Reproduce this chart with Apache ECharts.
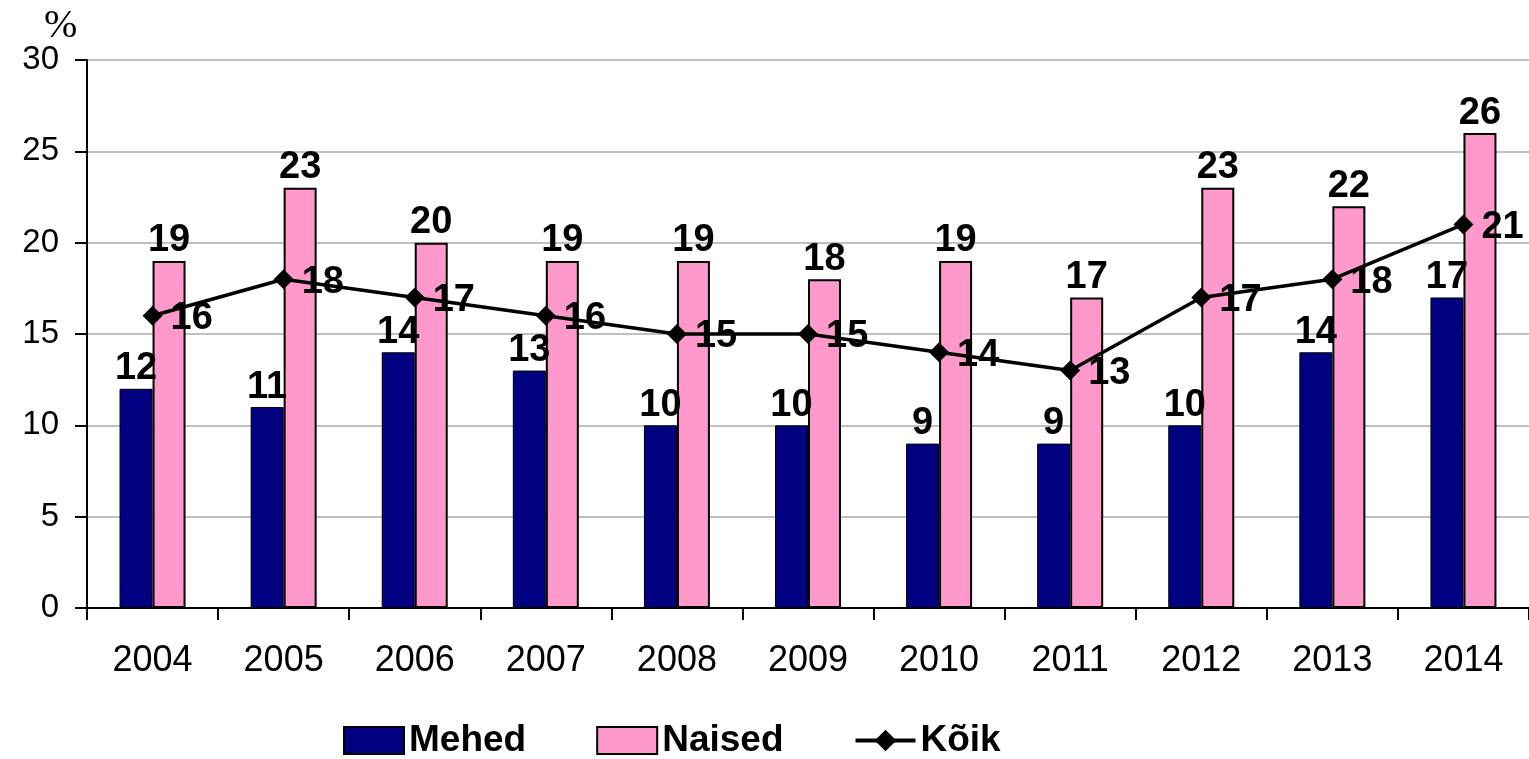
<!DOCTYPE html>
<html>
<head>
<meta charset="utf-8">
<script src="https://cdn.jsdelivr.net/npm/echarts@6/dist/echarts.min.js"></script>
<style>
  html, body { margin: 0; padding: 0; background: #fff; }
  #chart { width: 1529px; height: 759px; }
</style>
</head>
<body>
<div id="chart"></div>
<script>
// andmed
var years = ['2004', '2005', '2006', '2007', '2008', '2009', '2010', '2011', '2012', '2013', '2014'];
var mehed = [12, 11, 14, 13, 10, 10, 9, 9, 10, 14, 17];
var naised = [19, 23, 20, 19, 19, 18, 19, 17, 23, 22, 26];
var koik = [16, 18, 17, 16, 15, 15, 14, 13, 17, 18, 21];

var myChart = echarts.init(document.getElementById('chart'));

var labelStyle = {
    show: true,
    fontFamily: 'Liberation Sans, Arial, sans-serif',
    fontWeight: 'bold',
    fontSize: 38,
    color: '#000'
};

var option = {
    animation: false,
    backgroundColor: '#fff',
    grid: { left: 87, top: 60, width: 1445, height: 548 },
    graphic: [{
        type: 'text', left: 44, top: 6,
        style: { text: '%', font: '40px "Liberation Serif", "DejaVu Serif", serif', fill: '#000' }
    }],
    legend: {
        top: 717,
        left: 338,
        itemGap: 70,
        itemWidth: 60,
        itemHeight: 27,
        textStyle: { fontFamily: 'Liberation Sans, Arial, sans-serif', fontWeight: 'bold', fontSize: 37, color: '#000' },
        data: [
            { name: 'Mehed', icon: 'rect' },
            { name: 'Naised', icon: 'rect', itemStyle: { borderWidth: 2, borderColor: '#000' } },
            { name: 'Kõik', lineStyle: { width: 4 } }
        ]
    },
    xAxis: {
        type: 'category',
        data: years,
        axisLine: { lineStyle: { color: '#000', width: 2 } },
        axisTick: { show: true, length: 12, lineStyle: { color: '#000', width: 2 } },
        axisLabel: { margin: 35, fontFamily: 'Liberation Sans, Arial, sans-serif', fontSize: 36, color: '#000' }
    },
    yAxis: {
        type: 'value',
        min: 0, max: 30, interval: 5,
        axisLine: { show: true, lineStyle: { color: '#000', width: 2 } },
        axisTick: { show: true, length: 12, lineStyle: { color: '#000', width: 2 } },
        axisLabel: { margin: 28, fontFamily: 'Liberation Sans, Arial, sans-serif', fontSize: 33, color: '#000' },
        splitLine: { lineStyle: { color: '#c0c0c0', width: 2 } }
    },
    series: [
        {
            name: 'Mehed', type: 'bar', data: mehed,
            barWidth: 33, barGap: '0%',
            itemStyle: { color: '#000080', borderColor: '#000', borderWidth: 1 },
            label: Object.assign({ position: 'top', distance: 1 }, labelStyle)
        },
        {
            name: 'Naised', type: 'bar', data: naised,
            barWidth: 33, barGap: '0%',
            itemStyle: { color: '#ff99cc', borderColor: '#000', borderWidth: 2 },
            label: Object.assign({ position: 'top', distance: 1 }, labelStyle)
        },
        {
            name: 'Kõik', type: 'line', data: koik,
            symbol: 'diamond', symbolSize: 20,
            lineStyle: { color: '#000', width: 3.5 },
            itemStyle: { color: '#000' },
            z: 5,
            label: Object.assign({ position: 'right', distance: 8, offset: [0, 3] }, labelStyle)
        }
    ]
};

myChart.setOption(option);
</script>
</body>
</html>
